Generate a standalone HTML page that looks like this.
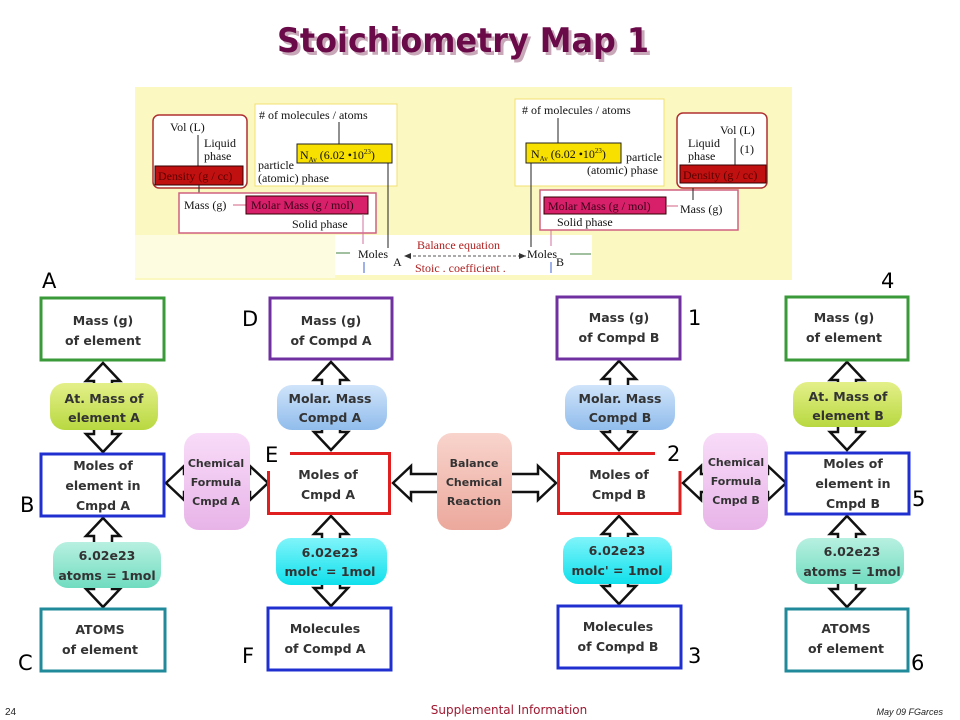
<!DOCTYPE html>
<html><head><meta charset="utf-8"><style>
html,body{margin:0;padding:0;background:#fff;}
svg{display:block;}
.s{font-family:"Liberation Serif",serif;font-size:12px;fill:#111;}
.b{font-family:"DejaVu Sans","Liberation Sans",sans-serif;font-weight:bold;font-size:12.5px;fill:#333;text-anchor:middle;}
.n{font-size:11px;}
.l{font-family:"DejaVu Sans","Liberation Sans",sans-serif;font-size:21px;fill:#000;}
.bx{fill:#fff;stroke-width:3;}
.ar{fill:#fff;stroke:#111;stroke-width:2.5;stroke-linejoin:miter;}
</style></head><body>
<svg width="960" height="720" viewBox="0 0 960 720" xmlns="http://www.w3.org/2000/svg">
<defs>
<linearGradient id="gy" x1="0" y1="0" x2="0" y2="1"><stop offset="0" stop-color="#e4f08a"/><stop offset="1" stop-color="#b8d840"/></linearGradient>
<linearGradient id="gt" x1="0" y1="0" x2="0" y2="1"><stop offset="0" stop-color="#b8f0e0"/><stop offset="1" stop-color="#70dcc0"/></linearGradient>
<linearGradient id="gb" x1="0" y1="0" x2="0" y2="1"><stop offset="0" stop-color="#d0e4fa"/><stop offset="1" stop-color="#90bcec"/></linearGradient>
<linearGradient id="gc" x1="0" y1="0" x2="0" y2="1"><stop offset="0" stop-color="#80f4fa"/><stop offset="1" stop-color="#10e0ec"/></linearGradient>
<linearGradient id="gp" x1="0" y1="0" x2="0" y2="1"><stop offset="0" stop-color="#f8dcf8"/><stop offset="1" stop-color="#e8b4e8"/></linearGradient>
<linearGradient id="gs" x1="0" y1="0" x2="0" y2="1"><stop offset="0" stop-color="#f8d4cc"/><stop offset="1" stop-color="#eca89c"/></linearGradient>
</defs>

<!-- Title -->
<text x="466" y="55" text-anchor="middle" font-family="DejaVu Sans,Liberation Sans,sans-serif" font-weight="bold" font-size="34" fill="#c8a8b8" textLength="372" lengthAdjust="spacingAndGlyphs">Stoichiometry Map 1</text>
<text x="463" y="52" text-anchor="middle" font-family="DejaVu Sans,Liberation Sans,sans-serif" font-weight="bold" font-size="34" fill="#6a0a48" textLength="372" lengthAdjust="spacingAndGlyphs">Stoichiometry Map 1</text>

<!-- Top panel -->
<rect x="135" y="87" width="657" height="193" fill="#fbf8c2"/>
<rect x="135" y="235" width="200" height="43" fill="#fdfbe0"/>
<rect x="335" y="235" width="257" height="40" fill="#fff"/>

<!-- left -->
<rect x="153" y="115" width="94" height="73" rx="6" fill="#fff" stroke="#b03030" stroke-width="1.5"/>
<text class="s" x="170" y="131">Vol (L)</text>
<line x1="198" y1="135" x2="198" y2="166" stroke="#222"/>
<text class="s" x="204" y="147">Liquid</text>
<text class="s" x="204" y="160">phase</text>
<rect x="155" y="166" width="88" height="19" fill="#c01010" stroke="#300" stroke-width="1"/>
<text class="s" x="158" y="180" style="fill:#5a0000">Density (g / cc)</text>
<line x1="199" y1="185" x2="199" y2="198" stroke="#222"/>
<rect x="179" y="193" width="197" height="40" fill="#fff" stroke="#d06080" stroke-width="1.5"/>
<text class="s" x="184" y="209">Mass (g)</text>
<line x1="233" y1="205" x2="246" y2="205" stroke="#d06080"/>
<rect x="246" y="196" width="122" height="18" fill="#d8206a" stroke="#300" stroke-width="1"/>
<text class="s" x="251" y="209" style="fill:#3a0018">Molar Mass (g / mol)</text>
<text class="s" x="292" y="228">Solid phase</text>
<rect x="255" y="104" width="142" height="82" fill="#fff" stroke="#f0e070" stroke-width="1"/>
<text class="s" x="259" y="119"># of molecules  /  atoms</text>
<line x1="339" y1="122" x2="339" y2="144" stroke="#222"/>
<rect x="297" y="144" width="95" height="19" fill="#f8e000" stroke="#222" stroke-width="1"/>
<text class="s" x="300" y="159">N<tspan font-size="7" dy="3">Av</tspan><tspan dy="-3"> (6.02 •10</tspan><tspan font-size="7" dy="-5">23</tspan><tspan dy="5">)</tspan></text>
<text class="s" x="258" y="169">particle</text>
<text class="s" x="258" y="182">(atomic) phase</text>
<line x1="388" y1="163" x2="388" y2="248" stroke="#222"/>
<line x1="363" y1="214" x2="363" y2="244" stroke="#d070a0"/>
<line x1="336" y1="253" x2="350" y2="253" stroke="#408040"/>
<text class="s" x="358" y="258">Moles</text>
<text class="s" x="393" y="266">A</text>
<line x1="364" y1="262" x2="364" y2="273" stroke="#4060d0"/>
<text class="s" x="417" y="249" style="fill:#b02020">Balance equation</text>
<text class="s" x="415" y="272" style="fill:#b02020">Stoic . coefficient .</text>
<line x1="408" y1="256" x2="526" y2="256" stroke="#555" stroke-dasharray="3,2"/>
<path d="M404 256 L411 253 L411 259 Z" fill="#333"/>
<path d="M526 256 L519 253 L519 259 Z" fill="#333"/>
<text class="s" x="527" y="258">Moles</text>
<text class="s" x="556" y="266">B</text>
<line x1="570" y1="254" x2="591" y2="254" stroke="#408040"/>
<line x1="551" y1="262" x2="551" y2="273" stroke="#4060d0"/>

<!-- right -->
<rect x="515" y="99" width="149" height="87" fill="#fff" stroke="#f0e070" stroke-width="1"/>
<text class="s" x="522" y="114"># of molecules  /  atoms</text>
<line x1="558" y1="118" x2="558" y2="143" stroke="#222"/>
<rect x="526" y="143" width="95" height="20" fill="#f8e000" stroke="#222" stroke-width="1"/>
<text class="s" x="531" y="158">N<tspan font-size="7" dy="3">Av</tspan><tspan dy="-3"> (6.02 •10</tspan><tspan font-size="7" dy="-5">23</tspan><tspan dy="5">)</tspan></text>
<text class="s" x="626" y="161">particle</text>
<text class="s" x="587" y="174">(atomic) phase</text>
<line x1="531" y1="163" x2="531" y2="247" stroke="#222"/>
<line x1="551" y1="214" x2="551" y2="246" stroke="#d070a0"/>
<rect x="677" y="113" width="90" height="75" rx="6" fill="#fff" stroke="#b03030" stroke-width="1.5"/>
<text class="s" x="720" y="134">Vol (L)</text>
<line x1="735" y1="138" x2="735" y2="165" stroke="#222"/>
<text class="s" x="740" y="153">(1)</text>
<text class="s" x="688" y="147">Liquid</text>
<text class="s" x="688" y="160">phase</text>
<rect x="680" y="165" width="86" height="18" fill="#c01010" stroke="#300" stroke-width="1"/>
<text class="s" x="683" y="179" style="fill:#5a0000">Density (g / cc)</text>
<rect x="540" y="190" width="198" height="40" fill="#fff" stroke="#d06080" stroke-width="1.5"/>
<line x1="693" y1="188" x2="693" y2="200" stroke="#222"/>
<rect x="544" y="197" width="122" height="17" fill="#d8206a" stroke="#300" stroke-width="1"/>
<text class="s" x="548" y="210" style="fill:#3a0018">Molar Mass (g / mol)</text>
<line x1="666" y1="206" x2="678" y2="206" stroke="#d06080"/>
<text class="s" x="680" y="213">Mass (g)</text>
<text class="s" x="557" y="226">Solid phase</text>

<!-- Arrows -->
<g class="ar">
<polygon points="103,363 120,381 112,381 112,434 120,434 103,452 86,434 94,434 94,381 86,381"/>
<polygon points="103,518 120,536 112,536 112,589 120,589 103,607 86,589 94,589 94,536 86,536"/>
<polygon points="331,362 348,380 340,380 340,432 348,432 331,450 314,432 322,432 322,380 314,380"/>
<polygon points="331,516 348,534 340,534 340,588 348,588 331,606 314,588 322,588 322,534 314,534"/>
<polygon points="619,361 636,379 628,379 628,432 636,432 619,450 602,432 610,432 610,379 602,379"/>
<polygon points="619,516 636,534 628,534 628,586 636,586 619,604 602,586 610,586 610,534 602,534"/>
<polygon points="847,362 864,380 856,380 856,432 864,432 847,450 830,432 838,432 838,380 830,380"/>
<polygon points="847,516 864,534 856,534 856,589 864,589 847,607 830,589 838,589 838,534 830,534"/>
<polygon points="166,483 184,466 184,474 250,474 250,466 268,483 250,500 250,492 184,492 184,500"/>
<polygon points="393,483 411,466 411,474 538,474 538,466 556,483 538,500 538,492 411,492 411,500"/>
<polygon points="683,483 701,466 701,474 768,474 768,466 786,483 768,500 768,492 701,492 701,500"/>
</g>

<!-- Column 1 -->
<rect class="bx" x="41" y="298" width="123" height="62" stroke="#3a9a3a"/>
<text class="b" x="103" y="325">Mass (g)</text><text class="b" x="103" y="345">of element</text>
<rect x="50" y="383" width="108" height="47" rx="15" fill="url(#gy)"/>
<text class="b" x="104" y="403">At. Mass of</text><text class="b" x="104" y="422">element A</text>
<rect class="bx" x="41" y="454" width="123" height="62" stroke="#2030d0"/>
<text class="b" x="103" y="470">Moles of</text><text class="b" x="103" y="490">element in</text><text class="b" x="103" y="510">Cmpd A</text>
<rect x="53" y="542" width="108" height="46" rx="15" fill="url(#gt)"/>
<text class="b" x="107" y="560">6.02e23</text><text class="b" x="107" y="580">atoms = 1mol</text>
<rect class="bx" x="41" y="609" width="124" height="62" stroke="#208a9a"/>
<text class="b" x="100" y="634">ATOMS</text><text class="b" x="100" y="654">of element</text>

<!-- Column 2 -->
<rect class="bx" x="270" y="298" width="122" height="61" stroke="#7030a0"/>
<text class="b" x="331" y="325">Mass (g)</text><text class="b" x="331" y="345">of Compd A</text>
<rect x="277" y="385" width="110" height="45" rx="15" fill="url(#gb)"/>
<text class="b" x="330" y="403">Molar. Mass</text><text class="b" x="330" y="422">Compd A</text>
<rect x="268" y="452" width="122" height="62" fill="#fff"/>
<path d="M290 453.5 H389.5 V513.5 H268.5 V471" fill="none" stroke="#e02020" stroke-width="3"/>
<text class="b" x="328" y="479">Moles of</text><text class="b" x="328" y="499">Cmpd A</text>
<rect x="276" y="538" width="111" height="47" rx="15" fill="url(#gc)"/>
<text class="b" x="330" y="557">6.02e23</text><text class="b" x="330" y="576">molc' = 1mol</text>
<rect class="bx" x="268" y="608" width="123" height="62" stroke="#2030d0"/>
<text class="b" x="325" y="633">Molecules</text><text class="b" x="325" y="653">of Compd A</text>
<rect x="184" y="433" width="66" height="97" rx="15" fill="url(#gp)"/>
<text class="b n" x="216" y="467">Chemical</text><text class="b n" x="216" y="486">Formula</text><text class="b n" x="216" y="505">Cmpd A</text>

<!-- Balance -->
<rect x="437" y="433" width="75" height="97" rx="15" fill="url(#gs)"/>
<text class="b n" x="474" y="467">Balance</text><text class="b n" x="474" y="486">Chemical</text><text class="b n" x="474" y="505">Reaction</text>

<!-- Column 3 -->
<rect class="bx" x="557" y="297" width="123" height="62" stroke="#7030a0"/>
<text class="b" x="619" y="322">Mass (g)</text><text class="b" x="619" y="342">of Compd B</text>
<rect x="565" y="385" width="110" height="45" rx="15" fill="url(#gb)"/>
<text class="b" x="620" y="403">Molar. Mass</text><text class="b" x="620" y="422">Compd B</text>
<rect x="557" y="452" width="124" height="62" fill="#fff"/>
<path d="M655 453.5 H558.5 V513.5 H680 V471" fill="none" stroke="#e02020" stroke-width="3"/>
<text class="b" x="619" y="479">Moles of</text><text class="b" x="619" y="499">Cmpd B</text>
<rect x="563" y="537" width="109" height="47" rx="15" fill="url(#gc)"/>
<text class="b" x="617" y="555">6.02e23</text><text class="b" x="617" y="575">molc' = 1mol</text>
<rect class="bx" x="558" y="606" width="123" height="62" stroke="#2030d0"/>
<text class="b" x="618" y="631">Molecules</text><text class="b" x="618" y="651">of Compd B</text>
<rect x="703" y="433" width="65" height="97" rx="15" fill="url(#gp)"/>
<text class="b n" x="736" y="466">Chemical</text><text class="b n" x="736" y="485">Formula</text><text class="b n" x="736" y="504">Cmpd B</text>

<!-- Column 4 -->
<rect class="bx" x="786" y="297" width="122" height="63" stroke="#3a9a3a"/>
<text class="b" x="844" y="322">Mass (g)</text><text class="b" x="844" y="342">of element</text>
<rect x="793" y="382" width="109" height="45" rx="15" fill="url(#gy)"/>
<text class="b" x="848" y="401">At. Mass of</text><text class="b" x="848" y="420">element B</text>
<rect class="bx" x="786" y="453" width="123" height="61" stroke="#2030d0"/>
<text class="b" x="853" y="468">Moles of</text><text class="b" x="853" y="488">element in</text><text class="b" x="853" y="508">Cmpd B</text>
<rect x="796" y="538" width="108" height="46" rx="15" fill="url(#gt)"/>
<text class="b" x="852" y="556">6.02e23</text><text class="b" x="852" y="576">atoms = 1mol</text>
<rect class="bx" x="786" y="609" width="122" height="62" stroke="#208a9a"/>
<text class="b" x="846" y="633">ATOMS</text><text class="b" x="846" y="653">of element</text>

<!-- Letters -->
<text class="l" x="42" y="288">A</text>
<text class="l" x="242" y="326">D</text>
<text class="l" x="265" y="462">E</text>
<text class="l" x="20" y="512">B</text>
<text class="l" x="18" y="670">C</text>
<text class="l" x="242" y="663">F</text>
<text class="l" x="688" y="325">1</text>
<text class="l" x="667" y="461">2</text>
<text class="l" x="688" y="663">3</text>
<text class="l" x="881" y="288">4</text>
<text class="l" x="912" y="506">5</text>
<text class="l" x="911" y="670">6</text>

<!-- Footer -->
<text x="5" y="715" font-family="Liberation Sans,sans-serif" font-size="10" fill="#222">24</text>
<text x="509" y="714" text-anchor="middle" font-family="DejaVu Sans,Liberation Sans,sans-serif" font-size="12" fill="#a01830">Supplemental Information</text>
<text x="943" y="715" text-anchor="end" font-family="Liberation Sans,sans-serif" font-style="italic" font-size="9" fill="#222">May 09 FGarces</text>
</svg>
</body></html>
